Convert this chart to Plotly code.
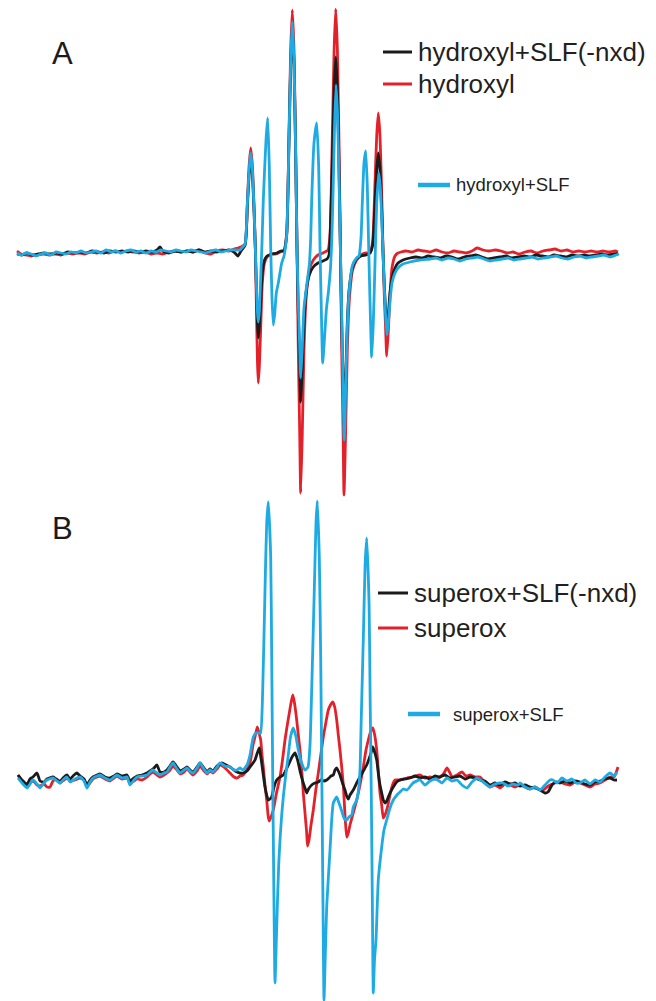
import plotly.graph_objects as go

# ---------------- Panel A (hydroxyl) : field (a.u.) and intensity (a.u.) ----------------
a_red_x = [17,21,26,31,37,43,49,55,61,67,73,79,85,91,97,103,109,115,121,127,133,139,145,151,157,163,169,175,181,187,193,199,205,211,217,223,229,234,238,
           241,245.1,247.4,249.1,250.7,252.4,254.1,255.4,256.5,257.5,258.3,259.4,260.7,262.3,264.5,267,272,276,280,284,
           286.7,289,290.7,292.3,294,295.7,297,298.3,299.7,300.7,302.3,304,306,309.3,313.3,318,323,
           328,330.1,332.4,334.1,335.7,337.4,339.1,340.4,341.7,343.1,344,345.6,347.3,349.3,352.6,356.6,361,366,
           370,372.7,375,376.7,378.3,380,381.7,383,384.3,385.7,386.7,388.3,390,392,395,398,401,
           406,412,418,424,430,436,442,448,454,460,466,472,477,483,489,495,501,507,513,519,525,531,537,543,549,555,561,567,573,579,585,591,597,603,609,615,618]
a_red_y = [2,-1,-2,-3,-2,-1,-2,-1,-2,0,-1,0,-1,1,0,1,0,2,1,2,1,0,1,-1,0,-1,1,2,1,2,1,3,0,-1,2,3,2,4,5,
           6,9,52,87,105,87,45,3,-60,-110,-130,-112,-75,-30,-10,-4,-1,-1,1,3,
           20,120,203,243,203,103,6,-97,-180,-240,-180,-97,-47,-17,-7,-2,0,
           3,20,120,203,244,203,103,6,-97,-180,-242,-180,-97,-47,-17,-7,-2,0,
           0,12,70,117,140,117,60,3,-42,-78,-103,-78,-42,-15,-3,0,1,
           2,1,3,2,1,3,1,0,2,1,0,2,5,3,2,3,2,0,1,-1,1,2,0,2,3,4,2,3,1,2,1,2,1,2,1,2,1]

a_blk_x = [17,22,27,32,38,44,50,56,62,68,74,80,86,92,98,104,110,116,122,128,134,140,146,152,157,160,163,169,175,181,187,193,199,205,211,217,223,229,234,238,
           241,245.1,247.4,249.1,250.7,252.4,254.1,255.4,256.5,257.5,258.3,259.4,260.7,262.3,264.5,267,272,277,281,
           284,286.7,289,290.7,292.3,294,295.7,297,298.3,299.7,300.7,302.3,304,306,309.3,313.3,318,323,327,
           329,330.1,332.4,334.1,335.7,337.4,339.1,340.4,341.7,343.1,344,345.6,347.3,349.3,352.6,356.6,361,366,
           370,372.7,375,376.7,378.3,380,381.7,383,384.3,385.7,386.7,388.3,390,392,395,398,403,410,
           416,422,428,434,440,446,452,458,464,470,476,482,488,494,500,506,512,518,524,530,536,542,548,554,560,566,572,578,584,590,596,602,608,614,618]
a_blk_y = [-1,-2,0,-2,-1,0,-1,0,-1,1,0,1,0,2,1,0,2,1,2,1,2,1,2,1,3,6,2,0,2,1,2,1,3,1,2,1,2,3,1,-3,
           2,8,47,78,95,78,40,2,-39,-72,-85,-73,-49,-20,-7,-3,-1,0,2,
           2,18,111,188,225,188,95,5,-60,-112,-149,-115,-70,-40,-22,-14,-10,-8,-6,
           -2,14,96,163,196,163,82,3,-69,-128,-172,-128,-69,-35,-14,-6,-3,-2,
           0,8,50,83,100,83,43,2,-32,-59,-77,-62,-40,-25,-15,-10,-7,-5,
           -4,-5,-3,-4,-5,-3,-4,-6,-4,-3,-2,-4,-6,-5,-4,-3,-5,-4,-3,-4,-2,-3,-4,-2,-3,-4,-2,-3,-2,-3,-2,-1,-2,-1,-1]

a_blu_x = [17,21,26,31,36,41,46,51,56,61,66,71,76,81,86,91,96,101,106,111,116,121,126,131,136,141,146,151,156,161,166,171,176,181,186,191,196,201,206,211,216,221,226,231,236,240,
           242.7,245.1,247.4,249.1,250.7,252.4,254.1,255.4,256.5,257.5,258.3,259.4,260.7,262,263.3,266,267.7,269.3,270.7,272,273.3,274.8,276.3,278.3,281.7,284,
           286.7,289,290.7,292.3,294,295.7,297,298.3,299.7,300.7,302.3,304,307,309.3,310.7,311.7,314,316.7,318.7,320,321.5,322.7,324.5,326.5,328.3,330.5,
           332,333.3,334.5,336,337.5,339.1,340.4,341.7,343.1,344.2,345.6,347.3,349.3,352.6,356.6,359,361,362.3,364,365.7,367.3,368.7,370.3,371.7,373.3,375,376.7,378.8,
           380.3,381.7,383,384.3,385.7,387,388.5,390.3,392,395,398,403,410,420,430,
           436,442,448,454,460,466,472,478,484,490,496,502,508,514,520,526,532,538,544,550,556,562,568,574,580,586,592,598,604,610,616,619]
a_blu_y = [0,-2,0,-1,-3,-1,0,-2,1,0,-1,1,0,2,0,1,2,0,3,1,2,0,2,3,1,2,0,2,1,3,2,1,3,2,1,3,2,1,0,2,3,1,2,3,3,3,
           6,9,50,83,100,83,43,3,-35,-60,-69,-58,-25,10,53,113,135,86,6,-45,-72,-60,-40,-30,-10,-3,
           18,114,193,231,193,98,6,-50,-94,-125,-94,-55,-30,-12,15,53,110,130,86,6,-65,-110,-85,-55,-40,-15,
           20,70,125,168,140,70,5,-60,-140,-187,-140,-75,-37,-12,-5,-3,15,50,90,102,67,5,-60,-104,-70,-10,50,80,
           66,35,2,-35,-65,-82,-68,-45,-30,-20,-15,-11,-9,-7,-6,
           -5,-7,-5,-6,-8,-6,-5,-4,-6,-8,-7,-6,-5,-7,-6,-5,-4,-6,-5,-4,-3,-5,-6,-4,-3,-5,-4,-3,-2,-4,-2,-1]

# ---------------- Panel B (superoxide) ----------------
b_red_x = [18,22,27,33,37,40,44,47,50,53,57,60,64,67,70,75,80,84,87,90,93,97,100,105,110,114,117,122,127,130,134,137,142,147,150,153,157,160,164,167,170,173,177,180,184,187,190,193,197,200,204,207,210,213,217,220,225,230,234,237,240,243,
           246.7,250,253,255,257.3,259,260.7,262,263.3,265,266.7,268.3,269.3,271,273.3,276.5,280,282.5,285,287.3,289.3,291,292.8,294.5,296.7,298.3,300,301.7,303.3,305,306.7,307.5,309,311,313.3,315.8,
           318.3,320.8,323.3,325.8,328.3,330.5,332.7,334.7,336.7,338.3,340,341.7,343.3,345,346.7,348.3,350,353.3,356.7,360,363.3,366,368.3,370.5,372.7,374.7,376.7,378.3,380,381.7,383.3,385,387.5,390,392.5,395,400,407,
           413,420,425,430,435,440,444,447,450,452,457,462,466,470,475,480,485,490,495,500,505,510,515,520,525,530,535,540,543,547,550,555,560,565,570,575,580,585,590,595,600,605,610,614,617,618]
b_red_y = [0,-6,-10,-6,-10,-11,-9,-12,-12,-6,-4,-8,-5,-3,-6,-5,-3,-5,-11,-8,-4,-2,-1,-4,-6,-3,-1,-4,-3,-8,-6,-4,-5,-2,1,3,0,-2,0,2,5,9,5,1,3,6,3,0,4,9,4,1,4,2,6,10,7,2,-2,-3,-1,0,
           5,12,30,38,48,42,35,20,8,-10,-25,-42,-46,-42,-35,-18,-2,15,35,50,62,72,80,72,55,40,25,5,-18,-38,-58,-71,-65,-50,-35,-15,
           2,20,38,52,65,70,73,68,55,40,25,8,-10,-40,-62,-58,-50,-38,-25,-10,8,25,35,43,47,40,25,5,-18,-30,-43,-40,-32,-20,-10,-5,-5,-3,
           -2,0,-3,-2,-4,-2,2,7,2,-2,0,3,-1,0,-2,-2,-8,-12,-10,-13,-9,-10,-12,-10,-12,-14,-12,-15,-15,-12,-10,-8,-7,-9,-10,-7,-8,-10,-12,-9,-8,-5,-2,-2,5,8]

b_blk_x = [18,22,27,30,33,37,40,44,47,53,57,60,64,67,70,74,77,80,84,87,90,93,97,100,105,110,114,117,122,127,130,134,137,142,147,150,154,157,160,164,167,170,173,177,180,184,187,190,193,197,200,204,207,210,213,217,222,226,230,234,237,240,243,
           247,250,253,255,257.3,259.3,260.5,261.7,263.3,265,266.7,268.3,270,271.7,274,276.7,280,283.3,286,289.3,292,295,296.7,298.3,300.5,303.3,305,306.7,308.5,311.7,315,318.3,321,324,326.7,329,331,
           333.3,335,336.7,338.3,340,342.5,345,347,348.3,350,353.3,356.7,360,363.3,366.7,369,371,372.7,374.3,376.7,378.5,380,381.7,383.3,385,386.7,388.3,390,393.3,396.7,400,405,
           410,415,420,425,430,435,440,445,450,455,460,465,470,475,480,485,490,495,500,505,510,515,520,525,530,535,540,545,548,552,556,560,565,570,575,580,585,590,595,600,605,610,614,617]
b_blk_y = [0,-5,-9,-4,-2,2,-6,-7,-4,-2,-5,-6,-2,0,-4,0,2,-1,-4,-10,-5,-2,0,1,-2,-3,-1,1,-1,0,-6,-3,-1,0,2,4,7,10,3,3,5,9,13,8,4,6,8,5,3,8,12,7,3,6,4,9,12,10,8,5,3,2,2,
           4,8,12,15,22,27,20,12,0,-12,-20,-25,-24,-22,-12,-5,-2,0,5,12,18,22,18,12,2,-8,-13,-18,-14,-10,-8,-7,-5,-6,-5,-3,-1,
           0,5,7,4,0,-8,-15,-22,-24,-20,-15,-8,-2,4,10,16,22,28,24,15,0,-10,-18,-25,-28,-26,-22,-18,-12,-7,-5,-4,
           -3,-1,-3,-2,-4,-1,-2,0,-3,-2,-1,-4,-2,-3,-5,-6,-10,-8,-10,-7,-9,-8,-11,-10,-12,-13,-15,-18,-17,-10,-7,-8,-6,-8,-6,-7,-9,-10,-7,-6,-4,-3,-5,-5]

b_blu_x = [18,22,27,33,37,40,44,47,53,57,60,64,67,70,75,80,84,87,90,93,97,100,105,110,114,117,122,127,130,134,137,142,147,150,153,157,160,164,167,170,173,177,180,184,187,190,193,197,200,204,207,210,213,217,220,225,230,234,237,240,243,
           247,250,253.3,256,258.3,260.5,262.7,265,266.7,268.3,270.7,271.7,272.7,274,275,276.2,277.3,278.7,280,281.7,283.3,285.5,288.3,290.5,293.3,296,298.3,301.7,305,308,310,
           311.7,314.3,316,317.3,319.3,320.7,321.8,323,324,325.3,326.7,328.5,330,331.7,333.3,336.7,339,341.7,344.5,346.7,349,351.7,353.3,356.7,358.5,360,
           361.1,363.4,365.1,366.7,369.1,370.1,371.3,372.3,373.3,374.5,376,378.3,381.7,384,386.7,390,393.3,397,400,403.3,407,413,
           420,425,430,436,442,447,452,457,462,467,472,477,482,487,490,495,500,503,508,513,518,520,525,530,535,540,545,550,553,557,562,567,572,576,580,585,590,595,600,605,610,614,617]
b_blu_y = [-3,-8,-13,-5,-9,-13,-8,-5,-3,-6,-8,-4,-2,-7,-4,-2,-6,-13,-7,-3,-1,0,-3,-5,-2,0,-3,-2,-10,-5,-2,-1,0,3,5,2,0,2,3,8,12,6,2,5,7,4,2,7,12,6,2,5,3,8,12,9,8,5,5,7,5,
           10,20,38,42,42,42,85,185,252,273,218,118,0,-130,-208,-170,-132,-90,-65,-40,-22,-2,20,38,47,38,25,12,5,8,30,
           85,185,252,274,218,118,0,-130,-225,-180,-132,-100,-75,-45,-28,-22,-28,-36,-44,-45,-42,-40,-32,-25,-15,5,
           50,140,210,237,170,80,-20,-120,-218,-185,-165,-105,-72,-55,-45,-33,-25,-20,-17,-14,-15,-8,
           -5,-10,-6,-4,-8,-3,-6,-5,-10,-13,-7,-3,-6,-10,-12,-9,-8,-8,-11,-9,-10,-8,-12,-14,-12,-15,-10,-5,-5,-8,-3,-6,-4,-8,-8,-5,-9,-5,-7,-2,2,-1,3]

# ---------------- Labels ----------------
panel_labels = ["A", "B"]
legend_a = ["hydroxyl+SLF(-nxd)", "hydroxyl", "hydroxyl+SLF"]
legend_b = ["superox+SLF(-nxd)", "superox", "superox+SLF"]

BLACK = "#1c1a1b"
RED = "#e3212b"
BLUE = "#1eaae2"
FONT = "Liberation Sans, Arial, Helvetica, sans-serif"
LW = 2.8

# the page body keeps its default 8 px margin, so the figure is placed at (8, 8)
OFF = 8
W, H = 656 - OFF, 1001 - OFF

fig = go.Figure()
fig.add_trace(go.Scatter(x=a_red_x, y=a_red_y, mode="lines", line=dict(color=RED, width=LW, shape="spline", smoothing=0.5), yaxis="y", showlegend=False))
fig.add_trace(go.Scatter(x=a_blk_x, y=a_blk_y, mode="lines", line=dict(color=BLACK, width=LW, shape="spline", smoothing=0.5), yaxis="y", showlegend=False))
fig.add_trace(go.Scatter(x=a_blu_x, y=a_blu_y, mode="lines", line=dict(color=BLUE, width=LW, shape="spline", smoothing=0.5), yaxis="y", showlegend=False))
fig.add_trace(go.Scatter(x=b_red_x, y=b_red_y, mode="lines", line=dict(color=RED, width=LW, shape="spline", smoothing=0.5), yaxis="y2", showlegend=False))
fig.add_trace(go.Scatter(x=b_blk_x, y=b_blk_y, mode="lines", line=dict(color=BLACK, width=LW, shape="spline", smoothing=0.5), yaxis="y2", showlegend=False))
fig.add_trace(go.Scatter(x=b_blu_x, y=b_blu_y, mode="lines", line=dict(color=BLUE, width=LW, shape="spline", smoothing=0.5), yaxis="y2", showlegend=False))

def px(x):
    return (x - OFF) / W
def py(y):
    return 1 - (y - OFF) / H

shapes = []
annotations = []
annotations.append(dict(text=panel_labels[0], x=px(62), y=py(54), xref="paper", yref="paper", showarrow=False,
                        xanchor="center", yanchor="middle", font=dict(family=FONT, size=31, color=BLACK)))
annotations.append(dict(text=panel_labels[1], x=px(62), y=py(528), xref="paper", yref="paper", showarrow=False,
                        xanchor="center", yanchor="middle", font=dict(family=FONT, size=31, color=BLACK)))

def legend_item(x0, x1, y, color, lw, text, tx, size):
    shapes.append(dict(type="line", xref="paper", yref="paper", x0=px(x0), x1=px(x1), y0=py(y), y1=py(y),
                       line=dict(color=color, width=lw)))
    annotations.append(dict(text=text, x=px(tx), y=py(y), xref="paper", yref="paper", showarrow=False,
                            xanchor="left", yanchor="middle", font=dict(family=FONT, size=size, color="#231f20")))

legend_item(383, 412, 52, BLACK, 3, legend_a[0], 416, 26)
legend_item(383, 412, 84, RED, 3, legend_a[1], 416, 26)
legend_item(418, 450, 185, BLUE, 4.5, legend_a[2], 454, 18.5)
legend_item(378, 408, 593, BLACK, 3, legend_b[0], 412, 26)
legend_item(378, 408, 628, RED, 3, legend_b[1], 412, 26)
legend_item(408, 440, 714, BLUE, 4.5, legend_b[2], 451, 18.5)

fig.update_layout(
    width=W, height=H,
    margin=dict(l=0, r=0, t=0, b=0, pad=0),
    paper_bgcolor="white", plot_bgcolor="white",
    xaxis=dict(range=[OFF, 656], visible=False, fixedrange=True),
    yaxis=dict(range=[253 - 1001, 253 - OFF], visible=False, domain=[0, 1]),
    yaxis2=dict(range=[775 - 1001, 775 - OFF], visible=False, overlaying="y", domain=[0, 1]),
    shapes=shapes, annotations=annotations,
    showlegend=False,
)

fig.write_html("out.html")
